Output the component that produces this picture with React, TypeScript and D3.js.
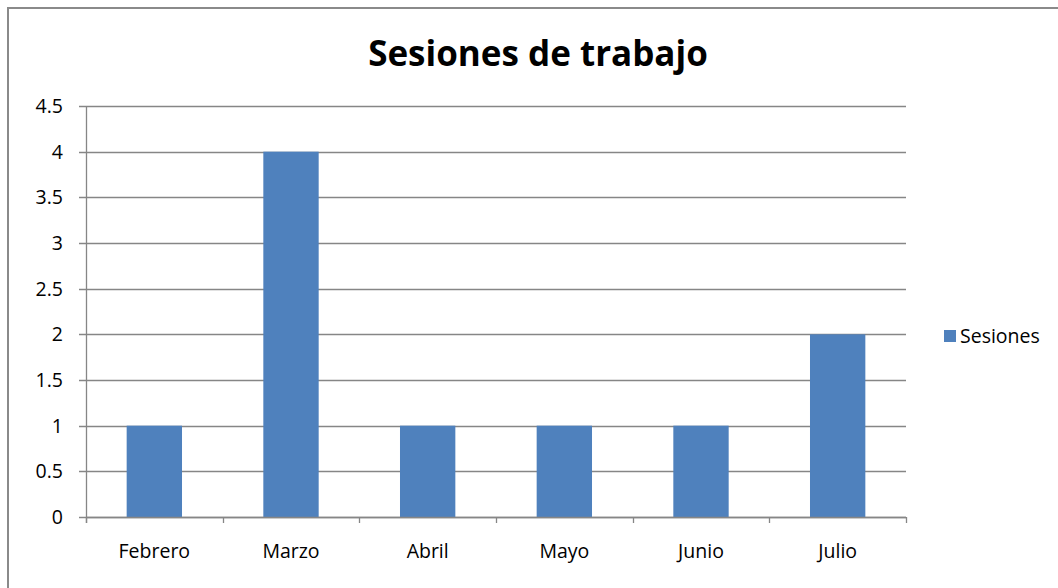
import * as React from "react";
import * as d3 from "d3";

const months = ["Febrero", "Marzo", "Abril", "Mayo", "Junio", "Julio"];
const sesiones = [1, 4, 1, 1, 1, 2];
const yTicks = [0, 0.5, 1, 1.5, 2, 2.5, 3, 3.5, 4, 4.5];

const barColor = "#4f81bd";
const lineColor = "#868686";
const font = "'Open Sans', sans-serif";
const fs = 19.5;

export default function App() {
    const ref = React.useRef<SVGSVGElement>(null);

    React.useEffect(() => {
        const svg = d3.select(ref.current);
        svg.selectAll("*").remove();

        const left = 86, right = 906, top = 106, bottom = 517;

        const x = d3.scaleBand().domain(months).range([left, right]).paddingInner(0).paddingOuter(0);
        const y = d3.scaleLinear().domain([0, 4.5]).range([bottom, top]);
        const barW = x.bandwidth() * 0.405;

        // frame
        svg.append("rect")
            .attr("x", 8).attr("y", 8).attr("width", 1070).attr("height", 600)
            .attr("fill", "white").attr("stroke", "#8a8a8a").attr("stroke-width", 2);

        svg.append("text")
            .attr("x", 538).attr("y", 66)
            .attr("text-anchor", "middle")
            .attr("font-family", font).attr("font-weight", "bold").attr("font-size", 35)
            .attr("fill", "#000")
            .text("Sesiones de trabajo");

        // gridlines + y labels
        const grid = svg.append("g");
        grid.selectAll("line")
            .data(yTicks)
            .join("line")
            .attr("x1", left - 7).attr("x2", right)
            .attr("y1", d => Math.round(y(d)) + 0.5).attr("y2", d => Math.round(y(d)) + 0.5)
            .attr("stroke", lineColor).attr("stroke-width", 1.3);
        grid.selectAll("text")
            .data(yTicks)
            .join("text")
            .attr("x", 63).attr("y", d => y(d) + 7)
            .attr("text-anchor", "end")
            .attr("font-family", font).attr("font-size", fs)
            .attr("fill", "#000")
            .text(d => String(d));

        // y axis line
        svg.append("line")
            .attr("x1", left + 0.5).attr("x2", left + 0.5)
            .attr("y1", top).attr("y2", bottom + 6)
            .attr("stroke", lineColor).attr("stroke-width", 1.3);

        // bars
        svg.append("g")
            .selectAll("rect")
            .data(sesiones)
            .join("rect")
            .attr("x", (d, i) => x(months[i])! + x.bandwidth() / 2 - barW / 2)
            .attr("width", barW)
            .attr("y", d => y(d))
            .attr("height", d => bottom - y(d))
            .attr("fill", barColor);

        // x axis
        svg.append("line")
            .attr("x1", left).attr("x2", right)
            .attr("y1", bottom + 0.5).attr("y2", bottom + 0.5)
            .attr("stroke", lineColor).attr("stroke-width", 1.3);
        const bounds = months.map(m => x(m)!).concat([right]);
        svg.append("g")
            .selectAll("line")
            .data(bounds)
            .join("line")
            .attr("x1", d => Math.round(d) + 0.5).attr("x2", d => Math.round(d) + 0.5)
            .attr("y1", bottom).attr("y2", bottom + 6)
            .attr("stroke", lineColor).attr("stroke-width", 1.3);
        svg.append("g")
            .selectAll("text")
            .data(months)
            .join("text")
            .attr("x", d => x(d)! + x.bandwidth() / 2)
            .attr("y", 558)
            .attr("text-anchor", "middle")
            .attr("font-family", font).attr("font-size", fs)
            .attr("fill", "#000")
            .text(d => d);

        // legend
        svg.append("rect")
            .attr("x", 944).attr("y", 330).attr("width", 12).attr("height", 12)
            .attr("fill", barColor);
        svg.append("text")
            .attr("x", 960).attr("y", 343)
            .attr("font-family", font).attr("font-size", fs)
            .attr("fill", "#000")
            .text("Sesiones");
    }, []);

    return (
        <svg ref={ref} width={1058} height={588}
             style={{position: "absolute", left: 0, top: 0, background: "white"}}/>
    );
}
